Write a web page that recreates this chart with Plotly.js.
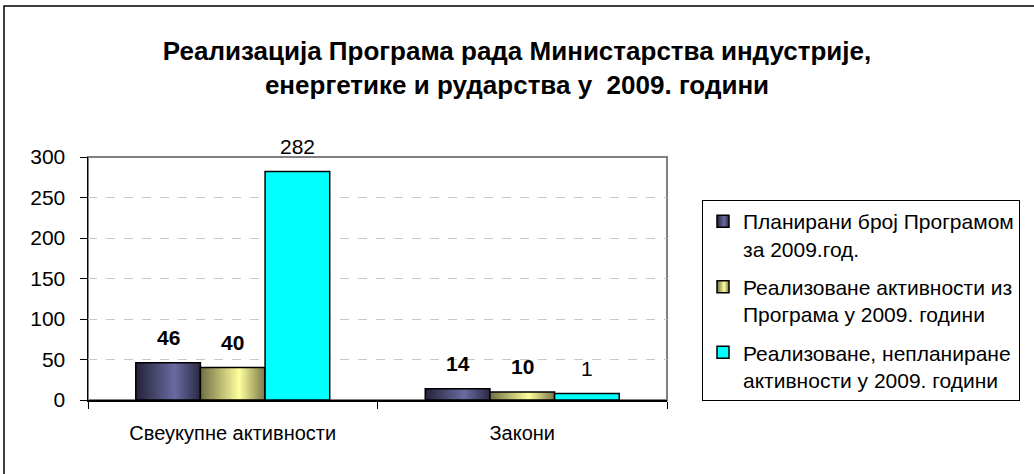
<!DOCTYPE html>
<html><head><meta charset="utf-8">
<script src="https://cdn.plot.ly/plotly-3.0.1.min.js"></script>
<style>html,body{margin:0;padding:0;background:#fff}#chart{width:1034px;height:474px}</style>
</head><body><div id="chart"></div>
<script>
const categories = ['Свеукупне активности', 'Закони'];
const seriesNames = [
  'Планирани број Програмом<br>за 2009.год.',
  'Реализоване активности из<br>Програма у 2009. години',
  'Реализоване, непланиране<br>активности у 2009. години'
];
const planned = [46, 14];
const realized = [40, 10];
const unplanned = [282, 8];
const plannedLabels = ['46', '14'];
const realizedLabels = ['40', '10'];
const unplannedLabels = ['282', '1'];
const yTickValues = [0, 50, 100, 150, 200, 250, 300];
const titleText = 'Реализација Програма рада Министарства индустрије,<br>енергетике и рударства у  2009. години';

const colors = ['#56568a', '#dede88', '#00ffff'];
// horizontal shading of the bars (edge, centre, edge) as in the original 3-D look
const shades = [
  ['#23233a', '#6a6aa0', '#2a2a45'],
  ['#6f6f45', '#ffff9c', '#77774a'],
  null
];
const values = [planned, realized, unplanned];
const labels = [plannedLabels, realizedLabels, unplannedLabels];
const boldLabel = [true, true, false];

const W = 1034, H = 474;
const margin = {l: 88, r: 367, t: 157, b: 74};
const plotW = W - margin.l - margin.r;
const plotH = H - margin.t - margin.b;
const bargap = 0.33;
const barW = plotW / categories.length * (1 - bargap) / values.length;
const FONT = 'Liberation Sans, Arial, sans-serif';

const traces = values.map((v, i) => ({
  type: 'bar',
  name: seriesNames[i],
  x: categories,
  y: v,
  legendgroup: 'g' + i,
  marker: {color: colors[i], line: {color: '#000000', width: 1.5}},
  hoverinfo: 'none'
}));

const annotations = [];
values.forEach((v, i) => {
  v.forEach((val, j) => {
    annotations.push({
      xref: 'x', yref: 'y', x: categories[j], y: val,
      xshift: (i - (values.length - 1) / 2) * barW,
      yshift: 25, yanchor: 'middle', showarrow: false,
      text: boldLabel[i] ? '<b>' + labels[i][j] + '</b>' : labels[i][j],
      font: {family: FONT, size: 21, color: '#000'}
    });
  });
});

const layout = {
  width: W, height: H,
  margin: Object.assign({autoexpand: false, pad: 0}, margin),
  paper_bgcolor: '#ffffff', plot_bgcolor: '#ffffff',
  font: {family: FONT, size: 20, color: '#000'},
  title: {
    text: '<b>' + titleText + '</b>',
    font: {family: FONT, size: 26, color: '#000'},
    x: 0.5, xref: 'container', xanchor: 'center',
    y: 1 - 60 / H, yref: 'container', yanchor: 'middle'
  },
  barmode: 'group', bargap: bargap, bargroupgap: 0,
  xaxis: {
    type: 'category', showline: true, linecolor: '#000', linewidth: 1.5,
    ticks: 'outside', tickson: 'boundaries', ticklen: 7, tickcolor: '#000', tickwidth: 1,
    tickfont: {family: FONT, size: 20, color: '#000'}, ticklabelstandoff: 14,
    showgrid: false, zeroline: false, fixedrange: true
  },
  yaxis: {
    range: [0, 300], tickvals: yTickValues, showline: true, linecolor: '#000', linewidth: 1.5,
    ticks: 'outside', ticklen: 7, tickcolor: '#000', tickwidth: 1,
    tickfont: {family: FONT, size: 21, color: '#000'}, ticklabelstandoff: 10,
    showgrid: true, gridcolor: '#c8c8c8', gridwidth: 1, griddash: 'dash',
    zeroline: false, fixedrange: true
  },
  showlegend: true,
  legend: {
    x: (702 - margin.l) / plotW, xanchor: 'left',
    y: (400 - 200) / plotH, yanchor: 'top',
    bordercolor: '#000', borderwidth: 1, bgcolor: '#fff',
    font: {family: FONT, size: 21, color: '#000'}, valign: 'top',
    traceorder: 'grouped', tracegroupgap: 8, itemclick: false, itemdoubleclick: false
  },
  shapes: [
    {type: 'rect', xref: 'paper', yref: 'paper', x0: 0, x1: 1, y0: 0, y1: 1,
     line: {color: '#808080', width: 2}, layer: 'below'},
    {type: 'rect', xref: 'paper', yref: 'paper',
     x0: (4 - margin.l) / plotW, x1: 2, y1: (400 - 6) / plotH, y0: -2,
     line: {color: '#000', width: 1.5}, layer: 'below'}
  ],
  annotations: annotations
};

function applyShading(gd) {
  const svg = gd.querySelector('svg.main-svg');
  if (!svg) return;
  let defs = svg.querySelector('defs');
  if (!defs) { defs = document.createElementNS('http://www.w3.org/2000/svg', 'defs'); svg.insertBefore(defs, svg.firstChild); }
  shades.forEach((s, i) => {
    if (!s) return;
    const id = 'barshade' + i;
    const g = document.createElementNS('http://www.w3.org/2000/svg', 'linearGradient');
    g.setAttribute('id', id);
    g.setAttribute('x1', '0'); g.setAttribute('y1', '0'); g.setAttribute('x2', '1'); g.setAttribute('y2', '0');
    [[0, s[0]], [0.6, s[1]], [1, s[2]]].forEach(([o, c]) => {
      const st = document.createElementNS('http://www.w3.org/2000/svg', 'stop');
      st.setAttribute('offset', o); st.setAttribute('stop-color', c);
      g.appendChild(st);
    });
    defs.appendChild(g);
  });
  const barTraces = gd.querySelectorAll('.barlayer .trace');
  barTraces.forEach((t, i) => {
    if (!shades[i]) return;
    t.querySelectorAll('path').forEach(p => { p.style.fill = 'url(#barshade' + i + ')'; });
  });
  const legendItems = gd.querySelectorAll('.legend .traces');
  legendItems.forEach((t, i) => {
    if (!shades[i]) return;
    t.querySelectorAll('.legendpoints path').forEach(p => { p.style.fill = 'url(#barshade' + i + ')'; });
  });
}

Plotly.newPlot('chart', traces, layout, {staticPlot: true, displayModeBar: false})
  .then(gd => applyShading(gd));
</script>
</body></html>
